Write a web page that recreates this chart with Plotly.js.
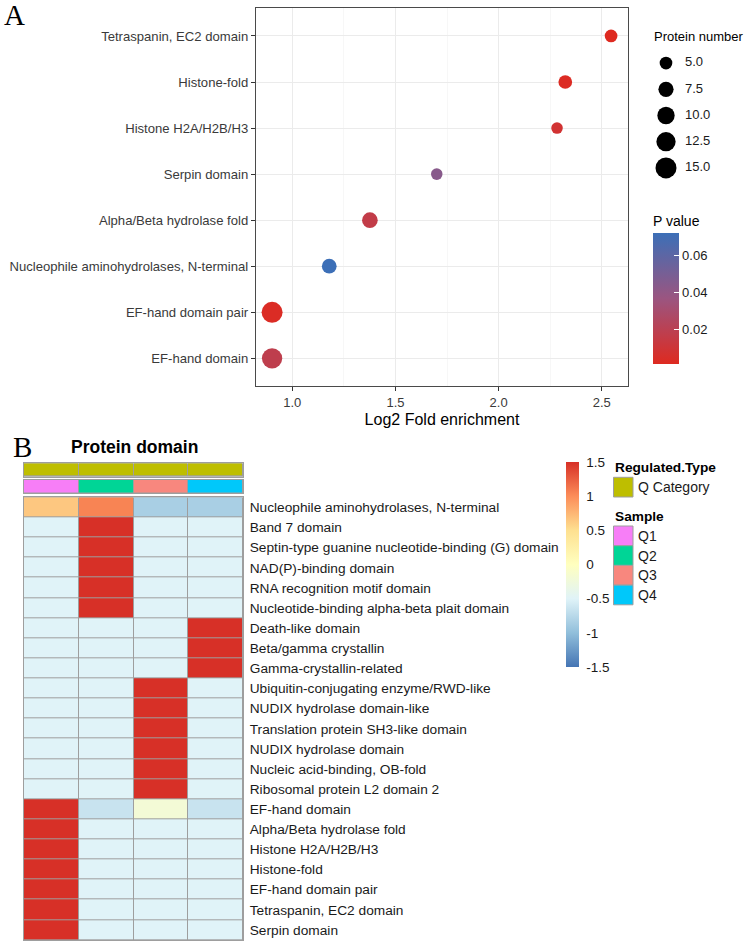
<!DOCTYPE html>
<html><head><meta charset="utf-8">
<script src="https://cdn.plot.ly/plotly-3.0.1.min.js"></script>
<style>html,body{margin:0;padding:0;background:#fff}#chart{width:747px;height:952px}</style>
</head><body><div id="chart"></div>
<script>
// ---------- Panel A data ----------
const enrichTerms = ["Tetraspanin, EC2 domain","Histone-fold","Histone H2A/H2B/H3","Serpin domain","Alpha/Beta hydrolase fold","Nucleophile aminohydrolases, N-terminal","EF-hand domain pair","EF-hand domain"];
const foldEnrichment = [2.545, 2.323, 2.283, 1.70, 1.376, 1.179, 0.902, 0.902];
const proteinNumber = [5, 6, 4, 4, 8, 7, 15, 14];
const pValue = [0.0013, 0.0025, 0.008, 0.044, 0.016, 0.0722, 0.003, 0.018];
const sizeBreaks = [5.0, 7.5, 10.0, 12.5, 15.0];
const pTicks = [0.02, 0.04, 0.06];
const xTicksA = [1.0, 1.5, 2.0, 2.5];

// ---------- Panel B data ----------
const domainRows = ["Nucleophile aminohydrolases, N-terminal","Band 7 domain","Septin-type guanine nucleotide-binding (G) domain","NAD(P)-binding domain","RNA recognition motif domain","Nucleotide-binding alpha-beta plait domain","Death-like domain","Beta/gamma crystallin","Gamma-crystallin-related","Ubiquitin-conjugating enzyme/RWD-like","NUDIX hydrolase domain-like","Translation protein SH3-like domain","NUDIX hydrolase domain","Nucleic acid-binding, OB-fold","Ribosomal protein L2 domain 2","EF-hand domain","Alpha/Beta hydrolase fold","Histone H2A/H2B/H3","Histone-fold","EF-hand domain pair","Tetraspanin, EC2 domain","Serpin domain"];
const samples = ["Q1","Q2","Q3","Q4"];
const zQ1 = [0.65,-0.5,-0.5,-0.5,-0.5,-0.5,-0.5,-0.5,-0.5,-0.5,-0.5,-0.5,-0.5,-0.5,-0.5,1.5,1.5,1.5,1.5,1.5,1.5,1.5];
const zQ2 = [1.05,1.5,1.5,1.5,1.5,1.5,-0.5,-0.5,-0.5,-0.5,-0.5,-0.5,-0.5,-0.5,-0.5,-0.65,-0.5,-0.5,-0.5,-0.5,-0.5,-0.5];
const zQ3 = [-0.85,-0.5,-0.5,-0.5,-0.5,-0.5,-0.5,-0.5,-0.5,1.5,1.5,1.5,1.5,1.5,1.5,-0.2,-0.5,-0.5,-0.5,-0.5,-0.5,-0.5];
const zQ4 = [-0.85,-0.5,-0.5,-0.5,-0.5,-0.5,1.5,1.5,1.5,-0.5,-0.5,-0.5,-0.5,-0.5,-0.5,-0.65,-0.5,-0.5,-0.5,-0.5,-0.5,-0.5];
const heatTicks = [-1.5, -1, -0.5, 0, 0.5, 1, 1.5];
const heatTickText = ["-1.5","-1","-0.5","0","0.5","1","1.5"];
const regulatedType = "Q Category";
const sampleColors = ["#F77EF7","#00D596","#F8877E","#00C8FA"];
const qcatColor = "#BEBE00";

// ---------- helpers ----------
const W = 747, H = 952;
const px = x => x / W;
const py = y => 1 - y / H;
const FONT = "Liberation Sans, Arial, Helvetica, sans-serif";
const sizeFn = v => Math.sqrt(21 + 28 * v);
const GREY = "#9E9E9E";

const traces = [];

// Panel A bubble chart
traces.push({
  type: "scatter", mode: "markers",
  x: foldEnrichment, y: enrichTerms,
  xaxis: "x", yaxis: "y",
  marker: {
    size: proteinNumber.map(sizeFn),
    color: pValue,
    cmin: 0.0013, cmax: 0.0722,
    colorscale: [[0, "#DE2A20"], [0.5, "#9B5580"], [1, "#3C6FB7"]],
    line: {width: 0},
    opacity: 1,
    colorbar: {
      x: px(653), xanchor: "left", xpad: 0,
      y: py(364.3), yanchor: "bottom", ypad: 0,
      thickness: 26, thicknessmode: "pixels",
      len: 152, lenmode: "pixels",
      outlinewidth: 0,
      tickvals: pTicks, ticktext: pTicks.map(v => v.toFixed(2)),
      ticks: "inside", ticklen: 5, tickcolor: "#ffffff", tickwidth: 1,
      tickfont: {family: FONT, size: 13, color: "#1a1a1a"},
      title: {text: "P value", side: "top", font: {family: FONT, size: 14, color: "#000"}}
    }
  },
  cliponaxis: false,
  hoverinfo: "skip", showlegend: false
});

// Size legend (drawn through its own axes)
traces.push({
  type: "scatter", mode: "markers",
  x: sizeBreaks.map(() => 16), y: sizeBreaks,
  xaxis: "x3", yaxis: "y3",
  marker: {size: sizeBreaks.map(sizeFn), color: "#000000", opacity: 1, line: {width: 0}},
  cliponaxis: false, hoverinfo: "skip", showlegend: false
});
traces.push({
  type: "scatter", mode: "text",
  x: sizeBreaks.map(() => 35), y: sizeBreaks,
  text: sizeBreaks.map(v => v.toFixed(1)),
  textposition: "middle right",
  textfont: {family: FONT, size: 13, color: "#1a1a1a"},
  xaxis: "x3", yaxis: "y3",
  cliponaxis: false, hoverinfo: "skip", showlegend: false
});

// Panel B heatmap
const zMat = domainRows.map((_, i) => [zQ1[i], zQ2[i], zQ3[i], zQ4[i]]);
traces.push({
  type: "heatmap",
  x: samples, y: domainRows, z: zMat,
  xaxis: "x2", yaxis: "y2",
  zmin: -1.5, zmax: 1.5,
  colorscale: [[0, "#4575B4"], [1/6, "#91BFDB"], [2/6, "#E0F3F8"], [3/6, "#FFFFBF"], [4/6, "#FEE090"], [5/6, "#FC8D59"], [1, "#D73027"]],
  xgap: 1, ygap: 1,
  hoverinfo: "skip",
  colorbar: {
    x: px(566), xanchor: "left", xpad: 0,
    y: py(564.5), yanchor: "middle", ypad: 0,
    thickness: 13, thicknessmode: "pixels",
    len: 205, lenmode: "pixels",
    outlinewidth: 0,
    tickvals: heatTicks, ticktext: heatTickText,
    ticks: "outside", ticklen: 5, tickcolor: "rgba(0,0,0,0)",
    tickfont: {family: FONT, size: 13.5, color: "#1a1a1a"}
  }
});

// Annotation rows
traces.push({
  type: "heatmap", x: samples, y: ["Regulated.Type"],
  z: [samples.map(() => 0)],
  colorscale: [[0, qcatColor], [1, qcatColor]], zmin: 0, zmax: 1,
  showscale: false, xgap: 1, ygap: 1,
  xaxis: "x4", yaxis: "y4", hoverinfo: "skip"
});
traces.push({
  type: "heatmap", x: samples, y: ["Sample"],
  z: [samples.map((_, i) => i)],
  colorscale: sampleColors.map((c, i) => [i / (sampleColors.length - 1), c]),
  zmin: 0, zmax: sampleColors.length - 1,
  showscale: false, xgap: 1, ygap: 1,
  xaxis: "x5", yaxis: "y5", hoverinfo: "skip"
});

// ---------- layout ----------
const gridX = {domain: [px(24), px(243)], showgrid: false, zeroline: false, showticklabels: false, ticks: "",
  showline: true, mirror: true, linecolor: GREY, linewidth: 1, automargin: false, fixedrange: true};

const shapes = [];
["x2", "x4", "x5"].forEach((xa, k) => {
  const ya = ["y2", "y4", "y5"][k];
  shapes.push({type: "rect", layer: "below", xref: xa + " domain", yref: ya + " domain",
    x0: 0, x1: 1, y0: 0, y1: 1, fillcolor: GREY, line: {width: 0}});
});

const annotations = [
  {text: "A", x: px(2), y: py(15), xref: "paper", yref: "paper", xanchor: "left", yanchor: "middle",
    showarrow: false, font: {family: "Liberation Serif, Times New Roman, serif", size: 29, color: "#000"}},
  {text: "B", x: px(11), y: py(447), xref: "paper", yref: "paper", xanchor: "left", yanchor: "middle",
    showarrow: false, font: {family: "Liberation Serif, Times New Roman, serif", size: 29, color: "#000"}},
  {text: "Protein number", x: px(652), y: py(37), xref: "paper", yref: "paper", xanchor: "left", yanchor: "middle",
    showarrow: false, font: {family: FONT, size: 13, color: "#000"}},
  {text: "<b>Protein domain</b>", x: px(69), y: py(447), xref: "paper", yref: "paper", xanchor: "left", yanchor: "middle",
    showarrow: false, font: {family: FONT, size: 17.5, color: "#000"}},
  {text: "<b>Regulated.Type</b>", x: px(613), y: py(467.5), xref: "paper", yref: "paper", xanchor: "left", yanchor: "middle",
    showarrow: false, font: {family: FONT, size: 13.7, color: "#000"}},
  {text: "<b>Sample</b>", x: px(613), y: py(516.5), xref: "paper", yref: "paper", xanchor: "left", yanchor: "middle",
    showarrow: false, font: {family: FONT, size: 13.7, color: "#000"}}
];

// B legend swatches
const swX0 = 613.5, swW = 19.5, swH = 19.7;
const legendItems = [{label: regulatedType, color: qcatColor, top: 477.3}]
  .concat(samples.map((s, i) => ({label: s, color: sampleColors[i], top: 526 + i * swH})));
legendItems.forEach(it => {
  shapes.push({type: "rect", xref: "paper", yref: "paper",
    x0: px(swX0), x1: px(swX0 + swW), y0: py(it.top + swH), y1: py(it.top),
    fillcolor: it.color, line: {color: GREY, width: 1}});
  annotations.push({text: it.label, x: px(636), y: py(it.top + swH / 2), xref: "paper", yref: "paper",
    xanchor: "left", yanchor: "middle", showarrow: false, font: {family: FONT, size: 14, color: "#1a1a1a"}});
});

const layout = {
  width: W, height: H,
  margin: {l: 0, r: 0, t: 0, b: 0, pad: 0},
  paper_bgcolor: "#fff", plot_bgcolor: "#fff",
  showlegend: false,
  font: {family: FONT, color: "#333"},
  xaxis: {
    domain: [px(256), px(628)], anchor: "y",
    range: [0.824, 2.627],
    tickvals: xTicksA, ticktext: xTicksA.map(v => v.toFixed(1)),
    ticks: "outside", ticklen: 4, tickcolor: "#333", tickwidth: 1,
    tickfont: {family: FONT, size: 13, color: "#3a3a3a"},
    showline: true, mirror: true, linecolor: "#4a4a4a", linewidth: 1.2,
    showgrid: true, gridcolor: "#EBEBEB", gridwidth: 1,
    minor: {dtick: 0.25, tick0: 0, showgrid: true, gridcolor: "#F2F2F2", gridwidth: 0.6, ticks: ""},
    zeroline: false, automargin: false, fixedrange: true,
    title: {text: "Log2 Fold enrichment", font: {family: FONT, size: 16, color: "#000"}, standoff: 5}
  },
  yaxis: {
    domain: [py(386), py(8.3)], anchor: "x",
    type: "category", categoryorder: "array", categoryarray: enrichTerms,
    range: [7.6, -0.6],
    ticks: "outside", ticklen: 4, tickcolor: "#333", tickwidth: 1,
    tickfont: {family: FONT, size: 13.1, color: "#3a3a3a"},
    showline: true, mirror: true, linecolor: "#4a4a4a", linewidth: 1.2,
    showgrid: true, gridcolor: "#EBEBEB", gridwidth: 1,
    zeroline: false, automargin: false, fixedrange: true
  },
  xaxis2: Object.assign({}, gridX, {anchor: "y2", type: "category", categoryarray: samples, range: [-0.5, 3.5]}),
  yaxis2: {
    domain: [py(940), py(497.3)], anchor: "x2", side: "right",
    type: "category", categoryorder: "array", categoryarray: domainRows,
    range: [domainRows.length - 0.5, -0.5],
    ticks: "", ticklabelstandoff: 3,
    tickfont: {family: FONT, size: 13.7, color: "#1a1a1a"},
    showgrid: false, zeroline: false,
    showline: true, mirror: true, linecolor: GREY, linewidth: 1,
    automargin: false, fixedrange: true
  },
  xaxis3: {domain: [px(650), px(740)], anchor: "y3", range: [0, 90], visible: false, fixedrange: true},
  yaxis3: {domain: [py(181), py(50)], anchor: "x3", range: [16.25, 3.75], visible: false, fixedrange: true},
  xaxis4: Object.assign({}, gridX, {anchor: "y4", type: "category", categoryarray: samples, range: [-0.5, 3.5]}),
  yaxis4: {domain: [py(476.7), py(463.3)], anchor: "x4", showticklabels: false, ticks: "", showgrid: false, zeroline: false,
    showline: true, mirror: true, linecolor: GREY, linewidth: 1, automargin: false, fixedrange: true, range: [-0.5, 0.5]},
  xaxis5: Object.assign({}, gridX, {anchor: "y5", type: "category", categoryarray: samples, range: [-0.5, 3.5]}),
  yaxis5: {domain: [py(493.3), py(479.5)], anchor: "x5", showticklabels: false, ticks: "", showgrid: false, zeroline: false,
    showline: true, mirror: true, linecolor: GREY, linewidth: 1, automargin: false, fixedrange: true, range: [-0.5, 0.5]},
  shapes: shapes,
  annotations: annotations
};

Plotly.newPlot("chart", traces, layout, {staticPlot: true, displayModeBar: false});
</script>
</body></html>
